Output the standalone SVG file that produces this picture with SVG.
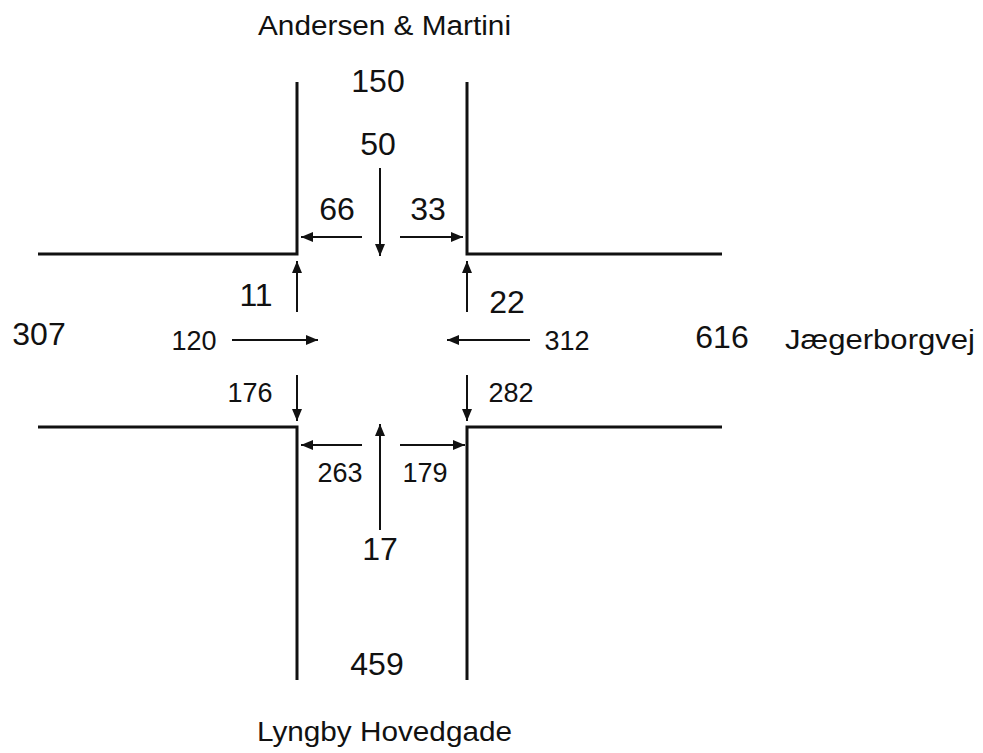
<svg xmlns="http://www.w3.org/2000/svg" width="983" height="753" viewBox="0 0 983 753">
<style>
.road{fill:none;stroke:#111;stroke-width:3}
.arr{fill:none;stroke:#111;stroke-width:2;marker-end:url(#ah)}
text{font-family:"Liberation Sans",Arial,sans-serif;fill:#111;text-anchor:middle}
.big{font-size:32px}
.med{font-size:27px}
.lab{font-size:27px}
</style>
<defs>
<marker id="ah" viewBox="0 0 12 10" refX="12" refY="5" markerWidth="12" markerHeight="10" markerUnits="userSpaceOnUse" orient="auto">
<path d="M0,0 L12,5 L0,10 Z" fill="#111"/>
</marker>
</defs>
<rect width="983" height="753" fill="#fff"/>
<g id="roads">
<path class="road" d="M297,82 V254 H38"/>
<path class="road" d="M467,82 V254 H722"/>
<path class="road" d="M38,427 H297 V680"/>
<path class="road" d="M722,427 H467 V680"/>
</g>
<g id="connectors">
<line class="arr" x1="380" y1="168" x2="380" y2="256"/>
<line class="arr" x1="362" y1="237" x2="301" y2="237"/>
<line class="arr" x1="400" y1="237" x2="463" y2="237"/>
<line class="arr" x1="297" y1="312" x2="297" y2="261"/>
<line class="arr" x1="467" y1="312" x2="467" y2="261"/>
<line class="arr" x1="232" y1="340" x2="318" y2="340"/>
<line class="arr" x1="530" y1="340" x2="447" y2="340"/>
<line class="arr" x1="297" y1="375" x2="297" y2="421"/>
<line class="arr" x1="467" y1="375" x2="467" y2="421"/>
<line class="arr" x1="380" y1="530" x2="380" y2="424"/>
<line class="arr" x1="362" y1="445" x2="301" y2="445"/>
<line class="arr" x1="400" y1="445" x2="465" y2="445"/>
</g>
<g id="labels">
<text class="lab" x="384.5" y="35" textLength="253" lengthAdjust="spacingAndGlyphs">Andersen &amp; Martini</text>
<text class="big" x="378" y="92">150</text>
<text class="big" x="378" y="155">50</text>
<text class="big" x="337" y="220">66</text>
<text class="big" x="428" y="220">33</text>
<text class="big" x="256" y="306">11</text>
<text class="big" x="507" y="313">22</text>
<text class="big" x="39" y="345">307</text>
<text class="med" x="194" y="350">120</text>
<text class="med" x="567" y="350">312</text>
<text class="big" x="722" y="348">616</text>
<text class="lab" x="880" y="349" textLength="190" lengthAdjust="spacingAndGlyphs">Jægerborgvej</text>
<text class="med" x="250" y="402">176</text>
<text class="med" x="511" y="402">282</text>
<text class="med" x="340" y="482">263</text>
<text class="med" x="425" y="482">179</text>
<text class="big" x="380" y="560">17</text>
<text class="big" x="377" y="675">459</text>
<text class="lab" x="384.5" y="741" textLength="255" lengthAdjust="spacingAndGlyphs">Lyngby Hovedgade</text>
</g>
</svg>
